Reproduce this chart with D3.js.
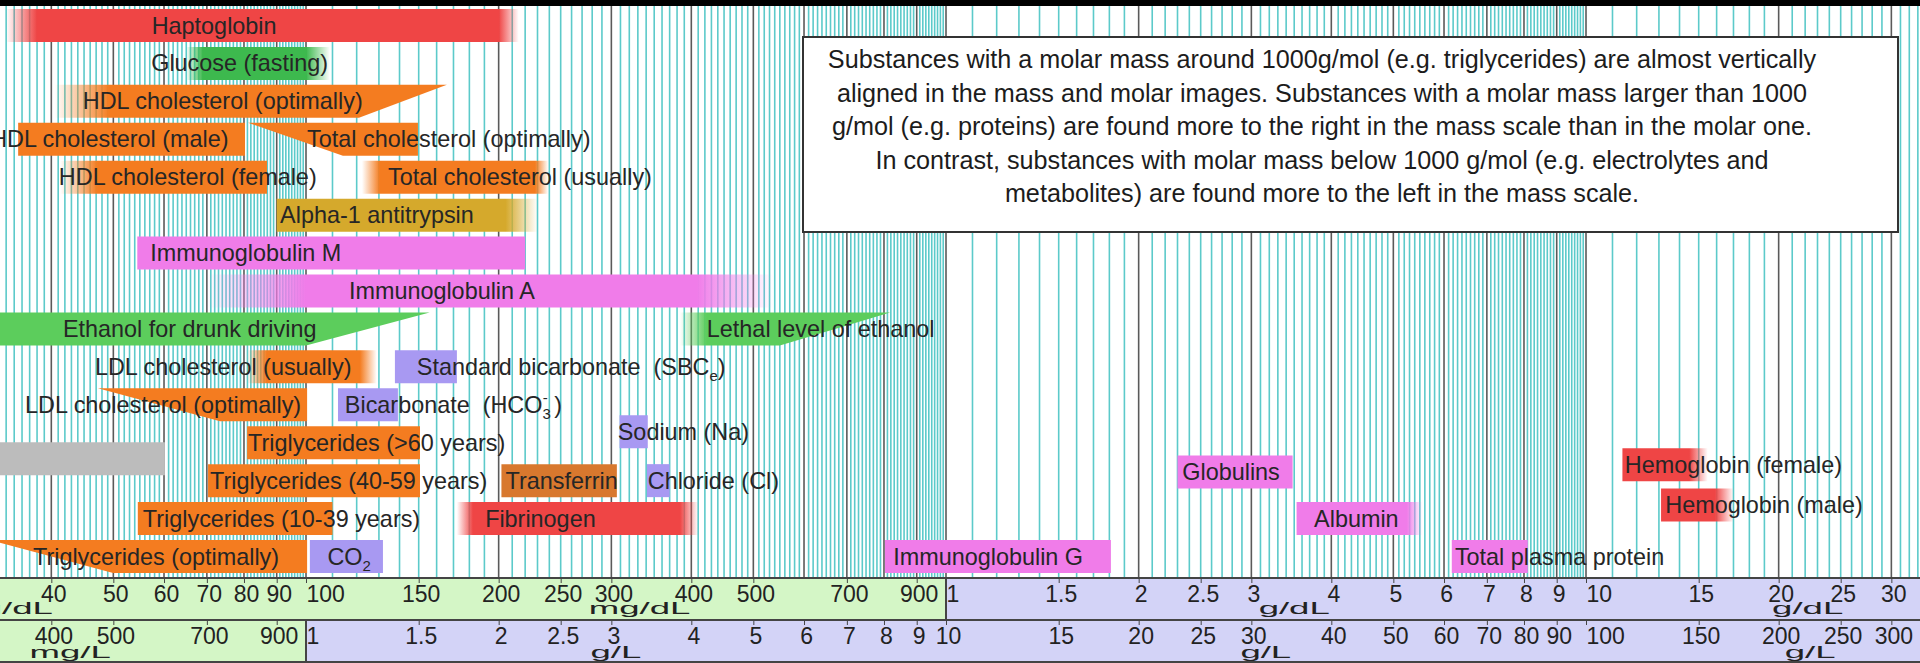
<!DOCTYPE html>
<html>
<head>
<meta charset="utf-8">
<script src="https://cdn.jsdelivr.net/npm/d3@7"></script>
<style>
  html, body { margin: 0; padding: 0; background: #fff; }
  svg { display: block; }
  text { font-family: "Liberation Sans", Arial, sans-serif; white-space: pre; }
</style>
</head>
<body>
<div id="chart"></div>
<script>
// all concentrations in g/L  (1 g/L = 100 mg/dL = 1000 mg/L)

// name, lane, colour group, left edge [top, bottom], right edge [top, bottom],
// opaque part [from, to] (null = solid), where the label starts
const substances = [
  ['Haptoglobin', 0, 'red', 0.34, 0.34, 2.15, 2.15, 0.38, 2.0, 0.574],
  ['Glucose (fasting)', 1, 'glucose', 0.65, 0.65, 1.09, 1.09, 0.69, 1.0, 0.573],
  ['HDL cholesterol (optimally)', 2, 'lipid', 0.405, 0.405, 1.66, 1.21, 0.494, 1.66, 0.448],
  ['HDL cholesterol (male)', 3, 'lipid', 0.355, 0.355, 0.803, 0.803, null, null, 0.321],
  ['Total cholesterol (optimally)', 3, 'lipid', 0.812, 1.142, 1.496, 1.496, null, null, 1.004],
  ['HDL cholesterol (female)', 4, 'lipid', 0.413, 0.413, 0.869, 0.869, 0.473, 0.869, 0.411],
  ['Total cholesterol (usually)', 4, 'lipid', 1.223, 1.223, 2.39, 2.39, 1.305, 2.28, 1.343],
  ['Alpha-1 antitrypsin', 5, 'gold', 0.90, 0.90, 2.30, 2.30, 0.90, 2.05, 0.911],
  ['Immunoglobulin M', 6, 'pink', 0.545, 0.545, 2.20, 2.20, null, null, 0.571],
  ['Immunoglobulin A', 7, 'pink', 0.70, 0.70, 5.37, 5.37, 1.0, 4.08, 1.167],
  ['Ethanol for drunk driving', 8, 'ethanol', 0.3, 0.3, 1.56, 1.0, null, null, 0.417],
  ['Lethal level of ethanol', 8, 'ethanol', 3.84, 3.84, 8.18, 5.50, 4.23, 8.18, 4.23],
  ['LDL cholesterol (usually)', 9, 'lipid', 0.809, 0.809, 1.29, 1.29, 0.869, 1.214, 0.468],
  ['Standard bicarbonate  (SBCe)', 9, 'electrolyte', 1.377, 1.377, 1.721, 1.721, null, null, 1.49],
  ['LDL cholesterol (optimally)', 10, 'lipid', 0.473, 0.734, 1.004, 1.004, null, null, 0.364],
  ['Bicarbonate  (HCO3-)', 10, 'electrolyte', 1.122, 1.122, 1.392, 1.392, null, null, 1.15],
  ['Sodium (Na)', 10.71, 'electrolyte', 3.09, 3.09, 3.42, 3.42, null, null, 3.07],
  ['Triglycerides (>60 years)', 11, 'lipid', 0.809, 0.809, 1.507, 1.507, null, null, 0.812],
  ['', 11.42, 'gray', 0.3, 0.3, 0.602, 0.602, null, null, null],
  ['Hemoglobin (female)', 11.58, 'red', 114, 114, 155, 155, 114, 145, 115],
  ['Globulins', 11.77, 'pink', 23.0, 23.0, 34.8, 34.8, null, null, 23.4],
  ['Triglycerides (40-59 years)', 12, 'lipid', 0.703, 0.703, 1.507, 1.507, null, null, 0.708],
  ['Transferrin', 12, 'brown', 2.02, 2.02, 3.06, 3.06, null, null, 2.05],
  ['Chloride (Cl)', 12, 'electrolyte', 3.41, 3.41, 3.70, 3.70, null, null, 3.42],
  ['Hemoglobin (male)', 12.64, 'red', 131, 131, 170, 170, 131, 159, 133],
  ['Triglycerides (10-39 years)', 13, 'lipid', 0.546, 0.546, 1.10, 1.10, null, null, 0.556],
  ['Fibrinogen', 13, 'red', 1.721, 1.721, 4.10, 4.10, 1.823, 3.84, 1.905],
  ['Albumin', 13, 'pink', 35.3, 35.3, 55.5, 55.5, 35.3, 52.5, 37.6],
  ['Triglycerides (optimally)', 14, 'lipid', 0.32, 0.4995, 1.004, 1.004, null, null, 0.3745],
  ['CO2', 14, 'electrolyte', 1.014, 1.014, 1.319, 1.319, null, null, 1.08],
  ['Immunoglobulin G', 14, 'pink', 8.03, 8.03, 18.1, 18.1, null, null, 8.27],
  ['Total plasma protein', 14, 'pink', 61.7, 61.7, 81.1, 81.1, null, null, 62.4]
];

const groupColors = {
  red: '#ef4545', glucose: '#3db94e', ethanol: '#5ccd5c', lipid: '#f47c20',
  gold: '#d5a92c', pink: '#f07ce9', brown: '#d8782e', electrolyte: '#a899f2', gray: '#bcbcbc'
};

// upper scale: mg/dL then g/dL ; lower scale: mg/L then g/L
const ticksMgDl = [40, 50, 60, 70, 80, 90, 100, 150, 200, 250, 300, 400, 500, 700, 900];
const ticksGDl = [1, 1.5, 2, 2.5, 3, 4, 5, 6, 7, 8, 9, 10, 15, 20, 25, 30];
const ticksMgL = [300, 400, 500, 700, 900];
const ticksGL = [1, 1.5, 2, 2.5, 3, 4, 5, 6, 7, 8, 9, 10, 15, 20, 25, 30, 40, 50, 60, 70, 80, 90, 100, 150, 200, 250, 300];

// unit captions and the g/L value they sit under
const unitsTop = [['mg/dL', 0.335], ['mg/dL', 3.32], ['g/dL', 35], ['g/dL', 222]];
const unitsBottom = [['mg/L', 0.428], ['g/L', 3.05], ['g/L', 31.6], ['g/L', 224]];

const noteLines = [
  'Substances with a molar mass around 1000g/mol (e.g. triglycerides) are almost vertically',
  'aligned in the mass and molar images. Substances with a molar mass larger than 1000',
  'g/mol (e.g. proteins) are found more to the right in the mass scale than in the molar one.',
  'In contrast, substances with molar mass below 1000 g/mol (e.g. electrolytes and',
  'metabolites) are found more to the left in the mass scale.'
];

const W = 1920, H = 663;
const plotTop = 6, plotBottom = 578, bandH = 42;

const x = d3.scaleLog().domain([1, 10]).range([306, 946]);
const laneY = d3.scaleLinear().domain([0, 14]).range([9, 540]);
const barH = 33;

const svg = d3.select('#chart').append('svg').attr('width', W).attr('height', H);
svg.append('rect').attr('width', W).attr('height', H).attr('fill', '#fff');
const defs = svg.append('defs');

// grid: every tenth of a unit in each decade, darker on whole units
const minor = [], major = [];
[0.1, 1, 10, 100].forEach(b => {
  for (let m = 10; m < 100; m++) {
    const v = b * m / 10;
    if (x(v) < -3 || x(v) > W + 3) continue;
    (m % 10 === 0 ? major : minor).push(v);
  }
});
const grid = svg.append('g');
grid.selectAll('.minor').data(minor).join('line')
  .attr('x1', d => x(d)).attr('x2', d => x(d))
  .attr('y1', plotTop).attr('y2', plotBottom)
  .attr('stroke', '#5ccaca').attr('stroke-width', 1.6);
grid.selectAll('.major').data(major).join('line')
  .attr('x1', d => x(d)).attr('x2', d => x(d))
  .attr('y1', plotTop).attr('y2', plotBottom)
  .attr('stroke', '#5a5a5a').attr('stroke-width', 1.6);

// bars
const bars = svg.append('g');
substances.forEach((s, i) => {
  const [name, lane, group, lt, lb, rt, rb, o1, o2] = s;
  const y0 = laneY(lane), y1 = y0 + barH;
  let fill = groupColors[group];
  if (o1 !== null) {
    const xa = x(Math.min(lt, lb)), xb = x(Math.max(rt, rb)), w = xb - xa;
    const grad = defs.append('linearGradient').attr('id', 'fade' + i)
      .attr('gradientUnits', 'userSpaceOnUse')
      .attr('x1', xa).attr('x2', xb).attr('y1', 0).attr('y2', 0);
    const stops = [
      [0, o1 <= Math.min(lt, lb) ? 1 : 0],
      [(x(o1) - xa) / w, 1],
      [(x(o2) - xa) / w, 1],
      [1, o2 >= Math.max(rt, rb) ? 1 : 0]
    ];
    grad.selectAll('stop').data(stops).join('stop')
      .attr('offset', d => d[0]).attr('stop-color', fill).attr('stop-opacity', d => d[1]);
    fill = `url(#fade${i})`;
  }
  bars.append('path')
    .attr('d', `M${x(lt)},${y0}L${x(rt)},${y0}L${x(rb)},${y1}L${x(lb)},${y1}Z`)
    .attr('fill', fill);
});

// labels (three of them carry chemical sub/superscripts)
const rich = {
  'CO2': [['CO'], ['2', 'sub']],
  'Bicarbonate  (HCO3-)': [['Bicarbonate  (HCO'], ['3', 'sub'], ['-', 'over'], [' )']],
  'Standard bicarbonate  (SBCe)': [['Standard bicarbonate  (SBC'], ['e', 'sub'], [')']]
};
const labels = svg.append('g');
substances.filter(s => s[0]).forEach(s => {
  const t = labels.append('text')
    .attr('x', x(s[9]))
    .attr('y', laneY(s[1]) + barH / 2 + 8)
    .attr('font-size', 23.4).attr('fill', '#262626');
  const segs = rich[s[0]] || [[s[0]]];
  let off = 0;
  segs.forEach(([txt, kind]) => {
    const sp = t.append('tspan').text(txt);
    if (kind === 'sub') { sp.attr('dy', 6 - off).attr('font-size', 15); off = 6; }
    else if (kind === 'over') { sp.attr('dx', -8).attr('dy', -10 - off).attr('font-size', 15); off = -10; }
    else { sp.attr('dy', -off); off = 0; }
  });
});

// note box
svg.append('rect').attr('x', 803).attr('y', 37).attr('width', 1095).attr('height', 195)
  .attr('fill', '#fff').attr('stroke', '#333').attr('stroke-width', 2);
svg.append('g').selectAll('text').data(noteLines).join('text')
  .attr('x', 1322).attr('y', (d, i) => 68 + i * 33.6)
  .attr('text-anchor', 'middle').attr('font-size', 25.2).attr('fill', '#1c1c1c')
  .text(d => d);

// scale bands
const green = '#d4f6c6', lilac = '#d3d3f7';
const bandTop = plotBottom, bandMid = plotBottom + bandH;
svg.append('rect').attr('x', 0).attr('y', bandTop).attr('width', x(10)).attr('height', bandH).attr('fill', green);
svg.append('rect').attr('x', x(10)).attr('y', bandTop).attr('width', W - x(10)).attr('height', bandH).attr('fill', lilac);
svg.append('rect').attr('x', 0).attr('y', bandMid).attr('width', x(1)).attr('height', bandH).attr('fill', green);
svg.append('rect').attr('x', x(1)).attr('y', bandMid).attr('width', W - x(1)).attr('height', bandH).attr('fill', lilac);

function drawScale(y0, values, fmt, startAligned) {
  const axis = d3.axisBottom(x).tickValues(values).tickFormat(fmt).tickSize(5).tickPadding(3);
  const g = svg.append('g').attr('transform', `translate(0,${y0})`).call(axis);
  g.select('.domain').remove();
  g.selectAll('.tick line').attr('stroke', '#444');
  g.selectAll('.tick text')
    .attr('font-size', 23).attr('font-family', '"Liberation Sans", Arial, sans-serif').attr('fill', '#222')
    .attr('x', 2)
    .filter(d => startAligned.includes(d)).attr('text-anchor', 'start').attr('x', 0);
}
const clean = v => +v.toFixed(3);
drawScale(bandTop,
  ticksMgDl.map(d => d / 100).concat(ticksGDl.map(d => d * 10)),
  v => v < 10 ? clean(v * 100) : clean(v / 10), [1, 10, 100]);
drawScale(bandMid,
  ticksMgL.map(d => d / 1000).concat(ticksGL),
  v => v < 1 ? clean(v * 1000) : clean(v), [1, 100]);

function drawUnits(list, baseline) {
  svg.append('g').selectAll('text').data(list).join('text')
    .attr('transform', d => `translate(${x(d[1])},${baseline}) scale(2.15,1)`)
    .attr('text-anchor', 'middle')
    .attr('font-family', '"DejaVu Sans", Verdana, sans-serif')
    .attr('font-size', 17).attr('fill', '#222')
    .text(d => d[0]);
}
drawUnits(unitsTop, 614);
drawUnits(unitsBottom, 658);

// band outlines
const frame = svg.append('g').attr('stroke', '#444').attr('stroke-width', 2);
[bandTop, bandMid, bandMid + bandH].forEach(y => {
  frame.append('line').attr('x1', 0).attr('x2', W).attr('y1', y).attr('y2', y);
});
frame.append('line').attr('x1', x(10)).attr('x2', x(10)).attr('y1', bandTop).attr('y2', bandMid);
frame.append('line').attr('x1', x(1)).attr('x2', x(1)).attr('y1', bandMid).attr('y2', bandMid + bandH);

// dark strip across the top edge
svg.append('rect').attr('x', 0).attr('y', 0).attr('width', W).attr('height', plotTop).attr('fill', '#000');
</script>
</body>
</html>
